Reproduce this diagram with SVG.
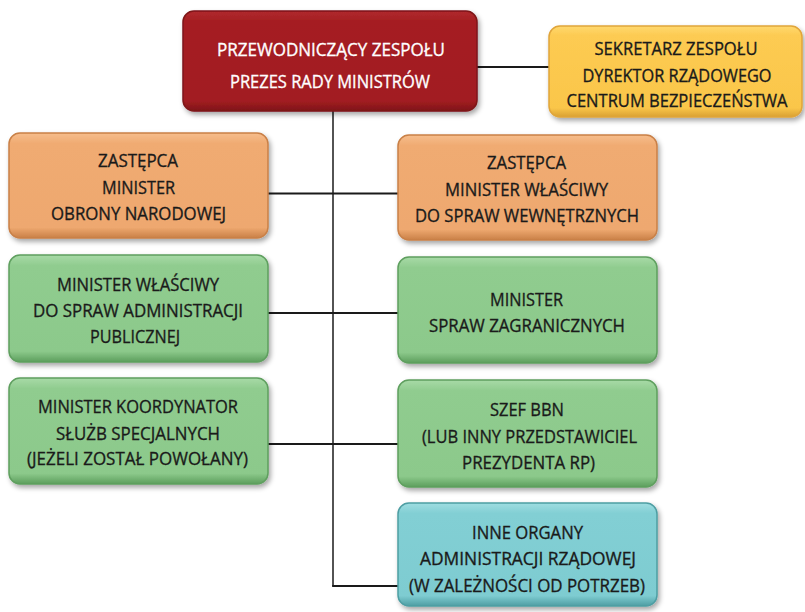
<svg xmlns="http://www.w3.org/2000/svg" width="805" height="612" viewBox="0 0 805 612">
<defs>
<filter id="sh" x="-10%" y="-10%" width="125%" height="130%">
<feDropShadow dx="2" dy="3" stdDeviation="2.5" flood-color="#000" flood-opacity="0.35"/>
</filter>
<linearGradient id="gRed" x1="0" y1="0" x2="0" y2="1"><stop offset="0" stop-color="#B02A2E"/><stop offset="0.1" stop-color="#A51E22"/><stop offset="0.9" stop-color="#A21D21"/><stop offset="1" stop-color="#7E1518"/></linearGradient>
<linearGradient id="gYel" x1="0" y1="0" x2="0" y2="1"><stop offset="0" stop-color="#FFD970"/><stop offset="0.1" stop-color="#FDCB52"/><stop offset="0.9" stop-color="#FAC64A"/><stop offset="1" stop-color="#D9A032"/></linearGradient>
<linearGradient id="gOra" x1="0" y1="0" x2="0" y2="1"><stop offset="0" stop-color="#F6BD8C"/><stop offset="0.1" stop-color="#F0AB72"/><stop offset="0.9" stop-color="#EEA86F"/><stop offset="1" stop-color="#C98047"/></linearGradient>
<linearGradient id="gGrn" x1="0" y1="0" x2="0" y2="1"><stop offset="0" stop-color="#A8DAA7"/><stop offset="0.1" stop-color="#90CC8F"/><stop offset="0.9" stop-color="#8CC98B"/><stop offset="1" stop-color="#5C9E5C"/></linearGradient>
<linearGradient id="gCyn" x1="0" y1="0" x2="0" y2="1"><stop offset="0" stop-color="#9FDDE1"/><stop offset="0.1" stop-color="#82CFD4"/><stop offset="0.9" stop-color="#7ECCD1"/><stop offset="1" stop-color="#4E9EA3"/></linearGradient>
</defs>
<style>
.box{filter:url(#sh);stroke-width:1.5}
.red{fill:url(#gRed);stroke:#7E1518}
.yel{fill:url(#gYel);stroke:#E0A53A}
.ora{fill:url(#gOra);stroke:#C98047}
.grn{fill:url(#gGrn);stroke:#5E9F5E}
.cyn{fill:url(#gCyn);stroke:#4E9EA3}
text{font-family:"Open Sans","Liberation Sans",sans-serif;font-size:19px;text-anchor:middle;fill:#1a1a1a;stroke:#1a1a1a;stroke-width:0.35}
.w{fill:#ffffff;stroke:#ffffff}
.ln{stroke:#1a1a1a;stroke-width:2;fill:none}
.lv{stroke:#1a1a1a;stroke-width:1.5;fill:none}
</style>
<g id="connectors">
<line class="lv" x1="333" y1="111" x2="333" y2="586.5"/>
<line class="ln" x1="477" y1="67" x2="549" y2="67"/>
<line class="ln" x1="268" y1="193.5" x2="398" y2="193.5"/>
<line class="ln" x1="268" y1="313" x2="398" y2="313"/>
<line class="ln" x1="268" y1="444" x2="398" y2="444"/>
<line class="ln" x1="332.2" y1="586" x2="398" y2="586"/>
</g>
<g id="n-przewodniczacy">
<rect class="box red" x="183" y="11" width="294" height="100" rx="11"/>
<text class="w" x="331" y="56" textLength="228" lengthAdjust="spacingAndGlyphs">PRZEWODNICZĄCY ZESPOŁU</text>
<text class="w" x="330" y="88" textLength="200" lengthAdjust="spacingAndGlyphs">PREZES RADY MINISTRÓW</text>
</g>
<g id="n-sekretarz">
<rect class="box yel" x="549" y="26" width="253" height="91" rx="11"/>
<text x="676" y="55" textLength="163" lengthAdjust="spacingAndGlyphs">SEKRETARZ ZESPOŁU</text>
<text x="677" y="82" textLength="189" lengthAdjust="spacingAndGlyphs">DYREKTOR RZĄDOWEGO</text>
<text x="677" y="107" textLength="221" lengthAdjust="spacingAndGlyphs">CENTRUM BEZPIECZEŃSTWA</text>
</g>
<g id="n-zastepca-mon">
<rect class="box ora" x="9" y="133" width="259" height="105" rx="11"/>
<text x="138" y="167" textLength="80" lengthAdjust="spacingAndGlyphs">ZASTĘPCA</text>
<text x="138.5" y="194" textLength="73" lengthAdjust="spacingAndGlyphs">MINISTER</text>
<text x="138.5" y="220" textLength="175" lengthAdjust="spacingAndGlyphs">OBRONY NARODOWEJ</text>
</g>
<g id="n-zastepca-msw">
<rect class="box ora" x="398" y="135" width="259" height="105" rx="11"/>
<text x="526.5" y="169" textLength="79" lengthAdjust="spacingAndGlyphs">ZASTĘPCA</text>
<text x="526.5" y="196" textLength="163" lengthAdjust="spacingAndGlyphs">MINISTER WŁAŚCIWY</text>
<text x="527" y="222" textLength="224" lengthAdjust="spacingAndGlyphs">DO SPRAW WEWNĘTRZNYCH</text>
</g>
<g id="n-admin">
<rect class="box grn" x="9" y="255" width="259" height="107" rx="11"/>
<text x="138" y="291" textLength="162" lengthAdjust="spacingAndGlyphs">MINISTER WŁAŚCIWY</text>
<text x="138" y="317" textLength="210" lengthAdjust="spacingAndGlyphs">DO SPRAW ADMINISTRACJI</text>
<text x="135" y="343" textLength="90" lengthAdjust="spacingAndGlyphs">PUBLICZNEJ</text>
</g>
<g id="n-msz">
<rect class="box grn" x="398" y="257" width="259" height="106" rx="11"/>
<text x="526.5" y="306" textLength="73" lengthAdjust="spacingAndGlyphs">MINISTER</text>
<text x="527" y="332" textLength="196" lengthAdjust="spacingAndGlyphs">SPRAW ZAGRANICZNYCH</text>
</g>
<g id="n-koordynator">
<rect class="box grn" x="9" y="378" width="259" height="106" rx="11"/>
<text x="138" y="413" textLength="200" lengthAdjust="spacingAndGlyphs">MINISTER KOORDYNATOR</text>
<text x="138" y="440" textLength="164" lengthAdjust="spacingAndGlyphs">SŁUŻB SPECJALNYCH</text>
<text x="137.5" y="465" textLength="221" lengthAdjust="spacingAndGlyphs">(JEŻELI ZOSTAŁ POWOŁANY)</text>
</g>
<g id="n-bbn">
<rect class="box grn" x="398" y="380" width="259" height="107" rx="11"/>
<text x="527" y="416" textLength="74" lengthAdjust="spacingAndGlyphs">SZEF BBN</text>
<text x="529.5" y="443" textLength="215" lengthAdjust="spacingAndGlyphs">(LUB INNY PRZEDSTAWICIEL</text>
<text x="528.5" y="469" textLength="133" lengthAdjust="spacingAndGlyphs">PREZYDENTA RP)</text>
</g>
<g id="n-inne">
<rect class="box cyn" x="398" y="503" width="259" height="103" rx="11"/>
<text x="527.5" y="539" textLength="111" lengthAdjust="spacingAndGlyphs">INNE ORGANY</text>
<text x="528" y="565" textLength="216" lengthAdjust="spacingAndGlyphs">ADMINISTRACJI RZĄDOWEJ</text>
<text x="527" y="592" textLength="236" lengthAdjust="spacingAndGlyphs">(W ZALEŻNOŚCI OD POTRZEB)</text>
</g>
</svg>
